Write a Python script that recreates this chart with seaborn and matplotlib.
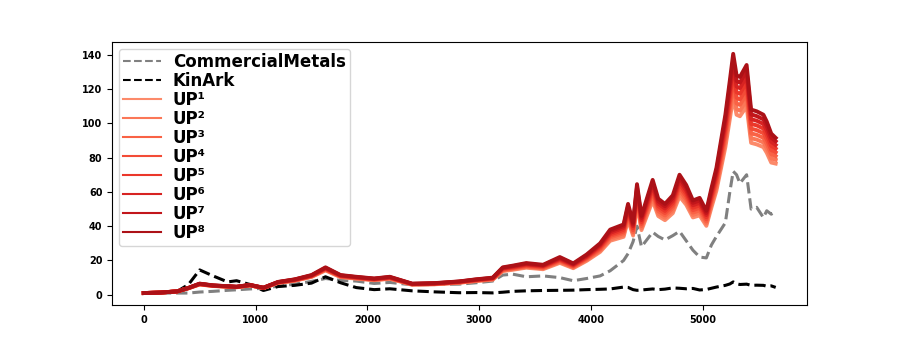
import matplotlib
matplotlib.use("Agg")
import matplotlib.pyplot as plt
import seaborn as sns

# sample days (x axis)
days = [0, 150, 300, 400, 500, 620, 750, 830, 950, 1070,
        1200, 1350, 1500, 1625, 1760, 1900, 2060, 2200, 2400, 2600,
        2820, 2970, 3120, 3210, 3300, 3420, 3570, 3720, 3840, 3960,
        4080, 4170, 4290, 4330, 4375, 4410, 4450, 4550, 4600, 4660,
        4730, 4790, 4850, 4910, 4970, 5030, 5075, 5120, 5200, 5240,
        5270, 5300, 5330, 5390, 5430, 5480, 5540, 5570, 5610, 5650]

commercial_metals = [1.0, 1.0, 1.0, 1.0, 1.6, 2.0, 2.6, 2.9, 3.4, 3.8,
                     5.0, 6.2, 7.8, 9.5, 8.4, 8.0, 6.6, 7.2, 5.8, 6.0,
                     6.2, 7.0, 8.0, 11.5, 12.0, 10.5, 11.0, 10.0, 8.2, 9.5,
                     11.0, 14.0, 20.0, 24.0, 31.0, 40.0, 28.0, 36.5, 34.0, 32.0,
                     34.5, 37.0, 31.5, 26.0, 22.0, 21.5, 29.0, 34.0, 42.0, 60.0,
                     72.0, 70.0, 65.0, 70.0, 50.0, 51.0, 45.0, 49.0, 47.0, 48.5]

kinark = [1.0, 1.2, 2.0, 6.0, 14.5, 11.0, 7.5, 8.2, 6.0, 2.5,
          4.8, 5.5, 6.8, 10.5, 7.0, 4.2, 3.0, 3.5, 2.3, 1.7,
          1.2, 1.3, 1.1, 1.5, 2.0, 2.3, 2.5, 2.6, 2.7, 3.0,
          3.2, 3.4, 4.5, 4.3, 3.0, 2.6, 2.8, 3.4, 3.0, 3.3,
          4.0, 3.8, 3.5, 3.7, 2.8, 3.1, 3.8, 4.5, 5.5, 6.3,
          7.5, 6.4, 6.0, 6.2, 5.5, 5.6, 5.5, 5.0, 5.2, 4.3]

up1 = [1.0, 1.3, 2.0, 3.8, 6.0, 5.1, 4.7, 4.4, 5.4, 3.9,
       6.9, 8.2, 10.4, 14.2, 10.3, 9.4, 8.5, 9.3, 5.9, 6.1,
       7.0, 8.0, 8.8, 13.8, 14.6, 15.8, 14.9, 18.6, 15.5, 19.8,
       25.0, 31.5, 33.8, 43.5, 34.5, 52.9, 37.7, 54.9, 45.9, 43.5,
       47.6, 57.4, 52.5, 45.1, 46.3, 40.2, 50.8, 60.7, 86.1, 102.5,
       115.2, 105.0, 104.1, 109.9, 88.6, 87.7, 86.1, 82.8, 77.1, 76.5]
up2 = [1.0, 1.3, 2.0, 3.8, 6.1, 5.2, 4.7, 4.4, 5.5, 3.9,
       7.0, 8.3, 10.6, 14.5, 10.5, 9.6, 8.6, 9.5, 6.0, 6.2,
       7.1, 8.1, 9.0, 14.1, 14.9, 16.2, 15.3, 19.1, 15.9, 20.3,
       25.7, 32.4, 34.8, 44.9, 35.6, 54.6, 38.9, 56.6, 47.3, 44.9,
       49.1, 59.2, 54.1, 46.5, 47.8, 41.5, 52.4, 62.6, 88.8, 105.7,
       118.8, 108.3, 107.4, 113.3, 91.3, 90.5, 88.8, 85.4, 79.5, 78.7]
up3 = [1.0, 1.3, 2.0, 3.9, 6.1, 5.2, 4.8, 4.5, 5.5, 4.0,
       7.1, 8.4, 10.7, 14.7, 10.6, 9.7, 8.8, 9.6, 6.1, 6.3,
       7.2, 8.3, 9.2, 14.4, 15.3, 16.5, 15.6, 19.6, 16.3, 20.9,
       26.4, 33.4, 35.9, 46.2, 36.6, 56.2, 40.1, 58.4, 48.8, 46.2,
       50.6, 61.0, 55.7, 47.9, 49.2, 42.7, 54.0, 64.5, 91.5, 108.9,
       122.4, 111.6, 110.7, 116.8, 94.1, 93.3, 91.5, 88.0, 82.0, 80.8]
up4 = [1.0, 1.3, 2.0, 3.9, 6.2, 5.3, 4.8, 4.5, 5.6, 4.0,
       7.2, 8.5, 10.9, 15.0, 10.8, 9.9, 8.9, 9.8, 6.2, 6.4,
       7.3, 8.4, 9.3, 14.7, 15.6, 16.9, 16.0, 20.1, 16.7, 21.4,
       27.1, 34.3, 36.9, 47.6, 37.7, 57.9, 41.3, 60.1, 50.2, 47.6,
       52.0, 62.8, 57.4, 49.3, 50.7, 44.0, 55.6, 66.4, 94.2, 112.1,
       126.1, 114.9, 113.9, 120.2, 96.9, 96.0, 94.2, 90.6, 84.4, 83.0]
up5 = [1.0, 1.3, 2.0, 3.9, 6.3, 5.3, 4.9, 4.6, 5.6, 4.0,
       7.2, 8.7, 11.0, 15.2, 11.0, 10.0, 9.1, 10.0, 6.2, 6.5,
       7.5, 8.6, 9.5, 15.1, 15.9, 17.3, 16.4, 20.5, 17.1, 21.9,
       27.9, 35.2, 37.9, 48.9, 38.8, 59.5, 42.4, 61.8, 51.7, 48.9,
       53.5, 64.6, 59.0, 50.8, 52.1, 45.2, 57.2, 68.3, 96.9, 115.4,
       129.7, 118.1, 117.2, 123.7, 99.6, 98.8, 96.9, 93.2, 86.8, 85.2]
up6 = [1.0, 1.3, 2.0, 4.0, 6.4, 5.4, 4.9, 4.6, 5.7, 4.1,
       7.3, 8.8, 11.2, 15.5, 11.2, 10.2, 9.2, 10.2, 6.3, 6.6,
       7.6, 8.7, 9.7, 15.4, 16.3, 17.7, 16.8, 21.0, 17.5, 22.4,
       28.6, 36.1, 39.0, 50.3, 39.9, 61.2, 43.6, 63.5, 53.1, 50.3,
       55.0, 66.4, 60.7, 52.2, 53.6, 46.5, 58.8, 70.2, 99.6, 118.6,
       133.3, 121.4, 120.5, 127.1, 102.4, 101.5, 99.6, 95.8, 89.2, 87.3]
up7 = [1.0, 1.3, 2.0, 4.0, 6.4, 5.4, 5.0, 4.7, 5.7, 4.1,
       7.4, 8.9, 11.3, 15.7, 11.3, 10.3, 9.4, 10.3, 6.4, 6.7,
       7.7, 8.9, 9.8, 15.7, 16.7, 18.1, 17.1, 21.5, 17.9, 23.0,
       29.3, 37.1, 40.0, 51.6, 40.9, 62.8, 44.8, 65.3, 54.6, 51.6,
       56.5, 68.2, 62.4, 53.6, 55.0, 47.7, 60.4, 72.1, 102.3, 121.8,
       136.9, 124.7, 123.7, 130.6, 105.2, 104.2, 102.3, 98.4, 91.6, 89.5]
up8 = [1.0, 1.3, 2.0, 4.0, 6.5, 5.5, 5.0, 4.7, 5.8, 4.1,
       7.5, 9.0, 11.5, 16.0, 11.5, 10.5, 9.5, 10.5, 6.5, 6.8,
       7.8, 9.0, 10.0, 16.0, 17.0, 18.5, 17.5, 22.0, 18.3, 23.5,
       30.0, 38.0, 41.0, 53.0, 42.0, 64.5, 46.0, 67.0, 56.0, 53.0,
       58.0, 70.0, 64.0, 55.0, 56.5, 49.0, 62.0, 74.0, 105.0, 125.0,
       140.5, 128.0, 127.0, 134.0, 108.0, 107.0, 105.0, 101.0, 94.0, 91.5]

up_series = [up1, up2, up3, up4, up5, up6, up7, up8]
up_labels = ["UP¹", "UP²", "UP³", "UP⁴", "UP⁵", "UP⁶", "UP⁷", "UP⁸"]
reds = plt.cm.Reds([0.4, 0.46, 0.52, 0.58, 0.64, 0.71, 0.78, 0.85])

fig, ax = plt.subplots(figsize=(8.97, 3.49), dpi=100)
fig.subplots_adjust(left=0.125, right=0.9, top=0.88, bottom=0.126)

sns.lineplot(x=days, y=commercial_metals, ax=ax, color="grey", linestyle="--",
             linewidth=2.2, label="CommercialMetals")
sns.lineplot(x=days, y=kinark, ax=ax, color="black", linestyle="--",
             linewidth=2.2, label="KinArk")
for vals, lab, c in zip(up_series, up_labels, reds):
    sns.lineplot(x=days, y=vals, ax=ax, color=c, linewidth=2.8, label=lab)

ax.set_yticks([0, 20, 40, 60, 80, 100, 120, 140])
ax.set_xticks([0, 1000, 2000, 3000, 4000, 5000])
for t in ax.get_xticklabels() + ax.get_yticklabels():
    t.set_fontweight("bold")
    t.set_fontsize(7)

leg = ax.legend(loc="upper left", prop={"weight": "bold", "size": 12},
                labelspacing=0.06, handlelength=2.3, handletextpad=0.7,
                borderpad=0.25, borderaxespad=0.4)
for line in leg.get_lines():
    line.set_linewidth(1.5)

fig.savefig("out.png", dpi=100)
